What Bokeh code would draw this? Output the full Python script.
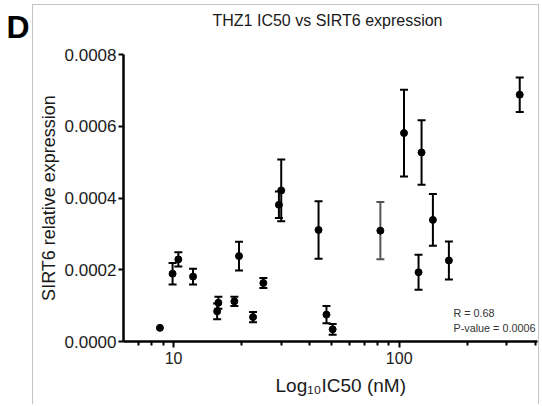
from bokeh.plotting import figure
from bokeh.models import (ColumnDataSource, Whisker, TeeHead, Label, FixedTicker,
                          Range1d, InlineStyleSheet)
from bokeh.embed import file_html
from bokeh.resources import INLINE

# ---- data ----
ic50_nm = [8.7, 9.9, 10.5, 12.2, 15.6, 15.8, 18.6, 19.5, 22.5, 25.0, 29.3, 30.0,
           43.9, 47.6, 50.7, 82.5, 105.0, 121.8, 125.6, 141.0, 166.0, 342.0]
sirt6 = [0.38e-4, 1.89e-4, 2.29e-4, 1.81e-4, 0.84e-4, 1.08e-4, 1.12e-4, 2.38e-4,
         0.68e-4, 1.63e-4, 3.81e-4, 4.21e-4, 3.11e-4, 0.75e-4, 0.34e-4, 3.09e-4,
         5.81e-4, 1.93e-4, 5.27e-4, 3.39e-4, 2.26e-4, 6.88e-4]
sirt6_err = [0.0, 0.30e-4, 0.20e-4, 0.22e-4, 0.22e-4, 0.17e-4, 0.13e-4, 0.40e-4,
             0.14e-4, 0.14e-4, 0.37e-4, 0.86e-4, 0.80e-4, 0.24e-4, 0.15e-4, 0.80e-4,
             1.21e-4, 0.49e-4, 0.90e-4, 0.72e-4, 0.53e-4, 0.48e-4]

x_major_ticks = [10, 100]
x_major_labels = ["10", "100"]
x_minor_ticks = [7, 8, 9, 20, 30, 40, 50, 60, 70, 80, 90, 200, 300, 400]
y_ticks = [0.0, 0.0002, 0.0004, 0.0006, 0.0008]
y_tick_labels = ["0.0000", "0.0002", "0.0004", "0.0006", "0.0008"]

title_text = "THZ1 IC50 vs SIRT6 expression"
panel_letter = "D"
x_label = "Log\u2081\u2080IC50 (nM)"
y_label = "SIRT6 relative expression"
stats_lines = ["R = 0.68", "P-value = 0.0006"]

# ---- figure ----
W, H = 540, 404
FL, FR, FT, FB = 123, 537, 54, 341   # frame edges in canvas px

border_css = InlineStyleSheet(css="""
:host { position: relative; }
:host::after { content: ''; position: absolute; left: 32px; top: 4px;
  width: 507px; height: 400px; border: 1px solid #c4c4c4; border-bottom: none;
  box-sizing: border-box; pointer-events: none; }
""")

p = figure(width=W, height=H, x_axis_type="log", output_backend="svg",
           toolbar_location=None, x_range=Range1d(6, 410), y_range=Range1d(0, 0.0008),
           min_border_left=FL, min_border_right=W - FR, min_border_top=FT,
           min_border_bottom=H - FB)
p.stylesheets = [border_css]
p.grid.visible = False
p.outline_line_color = None
p.background_fill_color = "white"
p.border_fill_color = "white"

FONT = "Liberation Sans"
TXT = "#1a1a1a"

# x axis
xa = p.xaxis[0]
xa.ticker = FixedTicker(ticks=x_major_ticks, minor_ticks=x_minor_ticks)
xa.major_label_overrides = dict(zip(x_major_ticks, x_major_labels))
xa.axis_line_width = 2.5
xa.major_tick_line_width = 2
xa.minor_tick_line_width = 2
xa.major_tick_in = 0
xa.major_tick_out = 6
xa.minor_tick_in = 0
xa.minor_tick_out = 4
xa.major_label_text_font = FONT
xa.major_label_text_font_size = "16px"
xa.major_label_text_color = TXT
xa.major_label_standoff = 4

# y axis
ya = p.yaxis[0]
ya.ticker = FixedTicker(ticks=y_ticks, minor_ticks=[])
ya.major_label_overrides = dict(zip(y_ticks, y_tick_labels))
ya.axis_line_width = 2.5
ya.major_tick_line_width = 2
ya.major_tick_in = 0
ya.major_tick_out = 5
ya.minor_tick_line_color = None
ya.major_label_text_font = FONT
ya.major_label_text_font_size = "17px"
ya.major_label_text_color = TXT
ya.major_label_standoff = 2
ya.axis_label = y_label
ya.axis_label_text_font = FONT
ya.axis_label_text_font_size = "18px"
ya.axis_label_text_font_style = "normal"
ya.axis_label_text_color = TXT
ya.axis_label_standoff = 3

# ---- data marks ----
upper = [v + e for v, e in zip(sirt6, sirt6_err)]
lower = [v - e for v, e in zip(sirt6, sirt6_err)]
bar_colors = ["#555555" if x == 82.5 else "black" for x in ic50_nm]
keep = [i for i, e in enumerate(sirt6_err) if e > 0]
err_src = ColumnDataSource(dict(
    x=[ic50_nm[i] for i in keep],
    upper=[upper[i] for i in keep],
    lower=[lower[i] for i in keep],
    color=[bar_colors[i] for i in keep]))
wh = Whisker(base="x", upper="upper", lower="lower", source=err_src,
             line_width=2, line_color="color",
             upper_head=TeeHead(size=8, line_width=2, line_color="color"),
             lower_head=TeeHead(size=8, line_width=2, line_color="color"))
p.add_layout(wh)

pt_src = ColumnDataSource(dict(x=ic50_nm, y=sirt6))
p.scatter("x", "y", source=pt_src, size=7, color="black")

# ---- texts ----
# title and panel letter live in the top panel, positioned in canvas pixels
p.add_layout(Label(x=327, y=20, x_units="canvas", y_units="canvas",
                   text=title_text, text_font=FONT, text_font_size="16px",
                   text_color=TXT, text_align="center", text_baseline="middle"),
             "above")
p.add_layout(Label(x=6, y=26, x_units="canvas", y_units="canvas",
                   text=panel_letter, text_font=FONT, text_font_size="32px",
                   text_font_style="bold", text_color="black",
                   text_align="left", text_baseline="middle"),
             "above")
# x-axis title in the bottom panel
p.add_layout(Label(x=275, y=385, x_units="canvas", y_units="canvas",
                   text=x_label, text_font=FONT, text_font_size="19px",
                   text_color=TXT, text_align="left", text_baseline="middle"),
             "below")

# statistics inside the plot frame (screen units: from frame bottom-left, y up)
for i, t in enumerate(stats_lines):
    p.add_layout(Label(x=453 - FL, y=FB - (312 + 15 * i), x_units="screen",
                       y_units="screen", text=t, text_font=FONT,
                       text_font_size="10.8px", text_color="#333333",
                       text_align="left", text_baseline="middle"))

open("out.html", "w").write(file_html(p, INLINE))
